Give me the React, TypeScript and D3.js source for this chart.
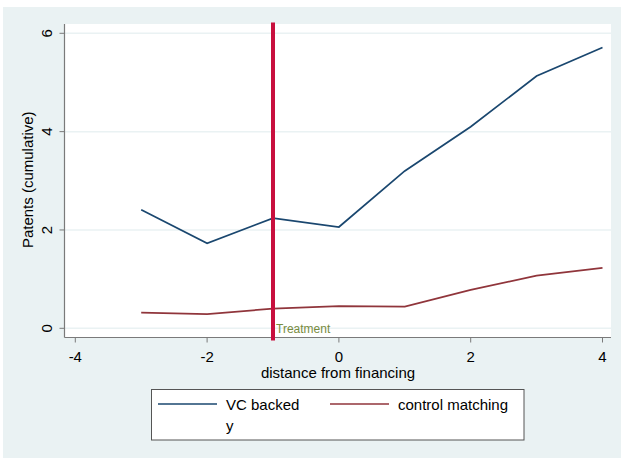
import React from "react";
import * as d3 from "d3";

const distance = [-3, -2, -1, 0, 1, 2, 3, 4];
const vcBacked = [2.41, 1.73, 2.24, 2.06, 3.2, 4.1, 5.13, 5.71];
const controlMatching = [0.32, 0.29, 0.4, 0.45, 0.44, 0.78, 1.07, 1.23];
const xTicks = [-4, -2, 0, 2, 4];
const yTicks = [0, 2, 4, 6];
const treatmentAt = -1;

const W = 621;
const H = 458;
const plot = { left: 64.5, right: 611, top: 24, bottom: 337.5 };
const font = "'Liberation Sans', Arial, sans-serif";
const fs = 15;

export default function App() {
  const x = d3.scaleLinear().domain([-4, 4]).range([75.3, 602.5]);
  const y = d3.scaleLinear().domain([0, 6]).range([328.3, 33.3]);

  const line = d3
    .line<number>()
    .x((_, i) => x(distance[i]))
    .y((d) => y(d));

  const tx = x(treatmentAt);

  return (
    <svg
      width={W}
      height={H}
      style={{ position: "absolute", left: 0, top: 0 }}
      fontFamily={font}
    >
      <rect x={0} y={0} width={W} height={H} fill="#ffffff" />
      <rect x={3} y={7} width={W - 3} height={H - 7} fill="#eaf2f3" />
      <rect
        x={plot.left}
        y={plot.top}
        width={plot.right - plot.left}
        height={plot.bottom - plot.top}
        fill="#ffffff"
      />
      {yTicks.map((t) => (
        <line
          key={"g" + t}
          x1={plot.left}
          x2={plot.right}
          y1={y(t)}
          y2={y(t)}
          stroke="#eaf2f3"
          strokeWidth={1.5}
        />
      ))}
      {/* axes */}
      <line x1={plot.left} x2={plot.left} y1={plot.top} y2={plot.bottom} stroke="#7a7a7a" strokeWidth={1.2} />
      <line x1={plot.left} x2={plot.right} y1={plot.bottom} y2={plot.bottom} stroke="#7a7a7a" strokeWidth={1.2} />
      {yTicks.map((t) => (
        <g key={"y" + t}>
          <line x1={plot.left - 5} x2={plot.left} y1={y(t)} y2={y(t)} stroke="#7a7a7a" strokeWidth={1} />
          <text
            transform={`translate(51.5,${y(t)}) rotate(-90)`}
            textAnchor="middle"
            fontSize={fs}
            fill="#000"
          >
            {t}
          </text>
        </g>
      ))}
      {xTicks.map((t) => (
        <g key={"x" + t}>
          <line x1={x(t)} x2={x(t)} y1={plot.bottom} y2={plot.bottom + 5} stroke="#7a7a7a" strokeWidth={1} />
          <text x={x(t)} y={361.5} textAnchor="middle" fontSize={fs} fill="#000">
            {t}
          </text>
        </g>
      ))}
      <text
        transform={`translate(32.5,${(plot.top + plot.bottom) / 2 - 1}) rotate(-90)`}
        textAnchor="middle"
        fontSize={fs}
        fill="#000"
      >
        Patents (cumulative)
      </text>
      <text x={338} y={378} textAnchor="middle" fontSize={fs} fill="#000">
        distance from financing
      </text>

      {/* series */}
      <path d={line(vcBacked) ?? ""} fill="none" stroke="#1a476f" strokeWidth={1.7} />
      <path d={line(controlMatching) ?? ""} fill="none" stroke="#90353b" strokeWidth={1.7} />

      {/* treatment marker */}
      <line x1={tx} x2={tx} y1={22.5} y2={340.5} stroke="#c8103e" strokeWidth={4} />
      <text x={tx + 3} y={333} fontSize={12} fill="#788c3e">
        Treatment
      </text>

      {/* legend */}
      <rect x={151.5} y={389.5} width={372.5} height={50.5} fill="#ffffff" stroke="#555" strokeWidth={1} />
      <line x1={158} x2={217} y1={404} y2={404} stroke="#1a476f" strokeWidth={1.7} />
      <text x={226} y={409.5} fontSize={fs} fill="#000">
        VC backed
      </text>
      <line x1={330} x2={389} y1={404} y2={404} stroke="#90353b" strokeWidth={1.7} />
      <text x={398} y={409.5} fontSize={fs} fill="#000">
        control matching
      </text>
      <text x={226} y={431} fontSize={fs} fill="#000">
        y
      </text>
    </svg>
  );
}
